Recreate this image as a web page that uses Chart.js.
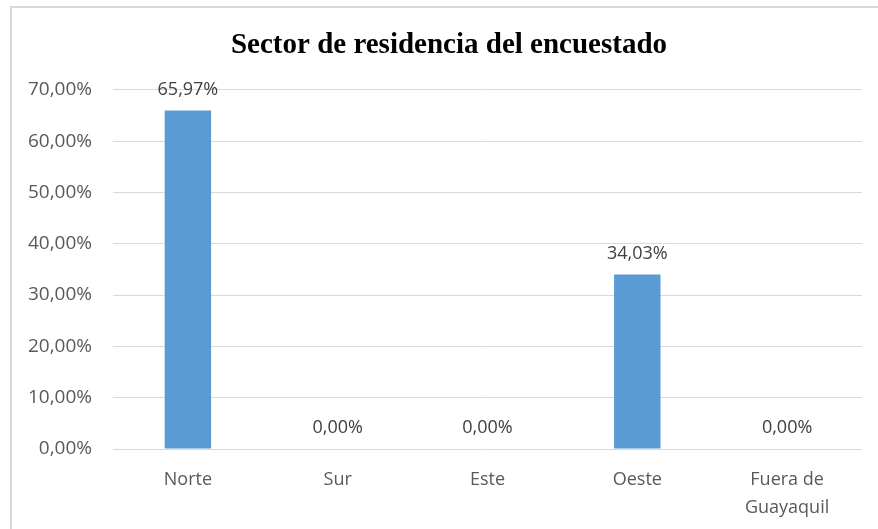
<!DOCTYPE html>
<html lang="es">
<head>
<meta charset="UTF-8">
<title>Sector de residencia</title>
<style>
  html, body { margin: 0; padding: 0; background: #fff; overflow: hidden; }
  #frame { position: absolute; left: 10px; top: 6px; width: 900px; height: 560px; border: 2px solid #d9d9d9; box-sizing: border-box; }
  #wrap { position: absolute; left: 0; top: 0; width: 878px; height: 529px; }
</style>
</head>
<body>
<div id="frame"></div>
<div id="wrap"><canvas id="chart"></canvas></div>
<script src="https://cdn.jsdelivr.net/npm/chart.js@4.4.1/dist/chart.umd.min.js"></script>
<script>
// datos
const categories = ['Norte', 'Sur', 'Este', 'Oeste', ['Fuera de', 'Guayaquil']];
const values = [65.97, 0, 0, 34.03, 0];
const yTicks = [0, 10, 20, 30, 40, 50, 60, 70];

const fmt = v => v.toFixed(2).replace('.', ',') + '%';

// etiquetas de valor encima de cada barra
const valueLabels = {
  id: 'valueLabels',
  afterDatasetsDraw(chart) {
    const ctx = chart.ctx;
    const meta = chart.getDatasetMeta(0);
    ctx.save();
    ctx.font = '18px "Open Sans"';
    ctx.fillStyle = '#404040';
    ctx.textAlign = 'center';
    ctx.textBaseline = 'middle';
    meta.data.forEach((bar, i) => {
      ctx.fillText(fmt(values[i]), bar.x, bar.y - 21);
    });
    ctx.restore();
  }
};

// el titulo va centrado sobre el marco completo, no sobre el area del grafico
const titleCenter = {
  id: 'titleCenter',
  afterLayout(chart) {
    if (chart.titleBlock) {
      chart.titleBlock.left = 36;
      chart.titleBlock.right = 862;
    }
  }
};

new Chart(document.getElementById('chart'), {
  type: 'bar',
  data: {
    labels: categories,
    datasets: [{
      data: values,
      backgroundColor: '#5b9bd5',
      categoryPercentage: 1,
      barPercentage: 0.31
    }]
  },
  options: {
    responsive: true,
    maintainAspectRatio: false,
    animation: false,
    layout: { padding: { left: 0, right: 16, top: 0, bottom: 0 } },
    plugins: {
      legend: { display: false },
      tooltip: { enabled: false },
      title: {
        display: true,
        text: 'Sector de residencia del encuestado',
        color: '#000',
        font: { family: '"Liberation Serif"', size: 29, weight: 'bold', lineHeight: 1.2 },
        padding: { top: 28, bottom: 27 }
      }
    },
    scales: {
      x: {
        grid: { display: false, drawTicks: false },
        border: { display: false },
        ticks: {
          color: '#595959',
          font: { family: '"Open Sans"', size: 18, lineHeight: 1.6 },
          padding: 16,
          maxRotation: 0,
          autoSkip: false
        },
        afterFit: s => { s.height = 80; }
      },
      y: {
        min: 0,
        max: 70,
        afterBuildTicks: s => { s.ticks = yTicks.map(v => ({ value: v })); },
        grid: { color: '#d9d9d9', lineWidth: 1, drawTicks: false },
        border: { display: false },
        ticks: {
          color: '#595959',
          font: { family: '"Open Sans"', size: 19 },
          padding: 21,
          callback: v => fmt(v)
        },
        afterFit: s => { s.width = 113; }
      }
    }
  },
  plugins: [valueLabels, titleCenter]
});
</script>
</body>
</html>
